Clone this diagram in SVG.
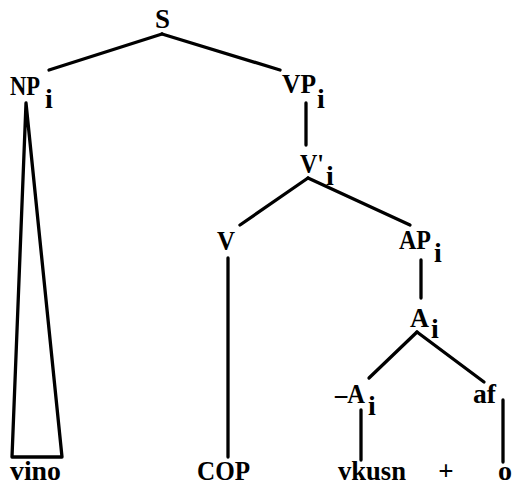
<svg xmlns="http://www.w3.org/2000/svg" width="512" height="486" viewBox="0 0 512 486">
<style>
.t{font-family:"Liberation Serif","Times New Roman",serif;font-weight:bold;font-size:27px;fill:#000}
.s{font-family:"Liberation Serif","Times New Roman",serif;font-weight:bold;font-size:28px;fill:#000}
.e{stroke:#000;stroke-width:3.3;fill:none;stroke-linecap:round;stroke-linejoin:round}
</style>
<rect width="512" height="486" fill="#fff"/>
<g id="connectors" class="e">
<line x1="162" y1="34" x2="49" y2="70"/>
<line x1="162" y1="34" x2="280" y2="70"/>
<line x1="306" y1="103" x2="306" y2="145"/>
<line x1="308" y1="178" x2="240" y2="225"/>
<line x1="308" y1="178" x2="410" y2="225"/>
<line x1="228" y1="258" x2="228" y2="457"/>
<line x1="421" y1="260" x2="421" y2="298"/>
<line x1="417" y1="332" x2="369" y2="378"/>
<line x1="417" y1="332" x2="484" y2="382"/>
<line x1="361" y1="410" x2="361" y2="460"/>
<line x1="503" y1="400" x2="503" y2="462"/>
<polygon points="26,103 12,457 62,457"/>
</g>
<g id="S"><text class="t" x="155" y="28" textLength="15" lengthAdjust="spacingAndGlyphs">S</text></g>
<g id="NP"><text class="t" x="10" y="95" textLength="30" lengthAdjust="spacingAndGlyphs">NP</text><text class="s" x="45" y="108">i</text></g>
<g id="VP"><text class="t" x="282" y="93" textLength="34" lengthAdjust="spacingAndGlyphs">VP</text><text class="s" x="317" y="108">i</text></g>
<g id="Vbar"><text class="t" x="300" y="173" textLength="24" lengthAdjust="spacingAndGlyphs">V'</text><text class="s" x="326" y="185">i</text></g>
<g id="V"><text class="t" x="217" y="250" textLength="18" lengthAdjust="spacingAndGlyphs">V</text></g>
<g id="AP"><text class="t" x="399" y="249" textLength="32" lengthAdjust="spacingAndGlyphs">AP</text><text class="s" x="434" y="262">i</text></g>
<g id="A"><text class="t" x="410" y="327" textLength="19" lengthAdjust="spacingAndGlyphs">A</text><text class="s" x="431" y="338">i</text></g>
<g id="negA"><text class="t" x="335" y="403" textLength="30" lengthAdjust="spacingAndGlyphs">–A</text><text class="s" x="368" y="415">i</text></g>
<g id="af"><text class="t" x="473" y="403" textLength="23" lengthAdjust="spacingAndGlyphs">af</text></g>
<g id="vino"><text class="t" x="10" y="480" textLength="51" lengthAdjust="spacingAndGlyphs">vino</text></g>
<g id="COP"><text class="t" x="197" y="480" textLength="53" lengthAdjust="spacingAndGlyphs">COP</text></g>
<g id="vkusn"><text class="t" x="338" y="480" textLength="68" lengthAdjust="spacingAndGlyphs">vkusn</text></g>
<g id="plus"><text class="t" x="446" y="480" text-anchor="middle">+</text></g>
<g id="o"><text class="t" x="498" y="480" textLength="14" lengthAdjust="spacingAndGlyphs">o</text></g>
</svg>
